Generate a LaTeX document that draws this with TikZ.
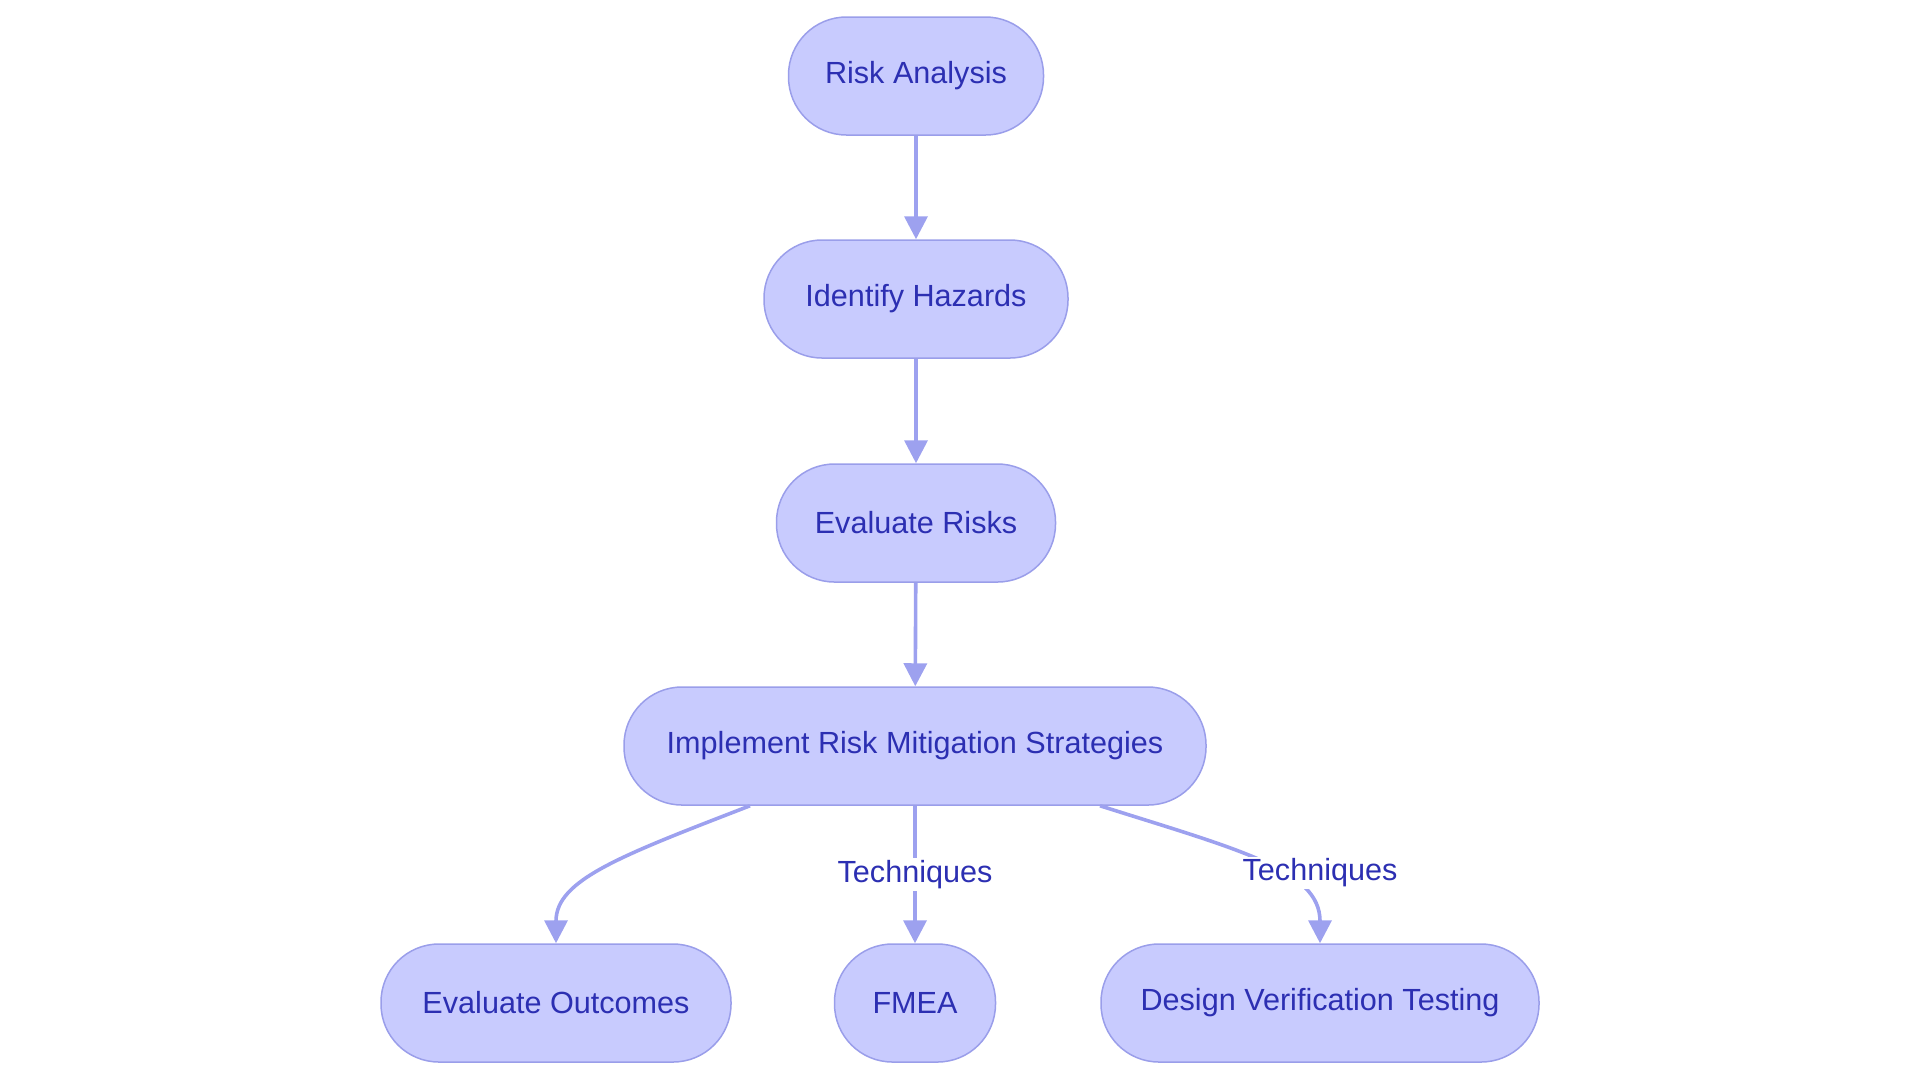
\documentclass[tikz,border=0pt]{standalone}
\usepackage{fontspec}
\setmainfont{Liberation Sans}
\usetikzlibrary{arrows.meta}
\definecolor{nodefill}{RGB}{200,203,254}
\definecolor{nodeline}{RGB}{154,158,234}
\definecolor{edgecol}{RGB}{157,161,239}
\definecolor{txt}{RGB}{44,47,178}
\tikzset{
  box/.style={draw=nodeline, line width=0.75pt, fill=nodefill, rounded corners=29pt,
    minimum height=59pt, text=txt, font=\fontsize{15.3}{17}\selectfont, inner sep=0pt},
  conn/.style={draw=edgecol, line width=1.8pt, -{Triangle[length=11.5pt,width=11.5pt]}},
  elabel/.style={fill=white, text=txt, font=\fontsize{15.3}{17}\selectfont, inner sep=1pt}
}
\begin{document}
\begin{tikzpicture}[x=0.5pt,y=-0.5pt]
\useasboundingbox (0,0) rectangle (1920,1083);
\node[box, minimum width=127.5pt] (ra) at (916,76) {Risk Analysis};
\node[box, minimum width=152pt] (ih) at (916,299) {Identify Hazards};
\node[box, minimum width=139.5pt] (er) at (916,523) {Evaluate Risks};
\node[box, minimum width=291pt] (ir) at (915,746) {Implement Risk Mitigation Strategies};
\node[box, minimum width=175pt] (eo) at (556,1003) {Evaluate Outcomes};
\node[box, minimum width=80.5pt] (fm) at (915,1003) {FMEA};
\node[box, minimum width=219pt] (dv) at (1320,1003) {Design Verification Testing};
\draw[conn] (ra) -- (ih);
\draw[conn] (ih) -- (er);
\draw[conn] (er) -- (ir);
\draw[conn] (ir.south -| 750,0) .. controls (620,856) and (556,880) .. (eo.north);
\draw[conn] (ir.south -| fm.north) -- node[elabel] (l1) {Techniques} (fm.north);
\draw[conn] (ir.south -| 1100,0) .. controls (1240,850) and (1320,870) .. (dv.north);
\node[elabel] (l2) at (1320,873) {Techniques};
\end{tikzpicture}
\end{document}
